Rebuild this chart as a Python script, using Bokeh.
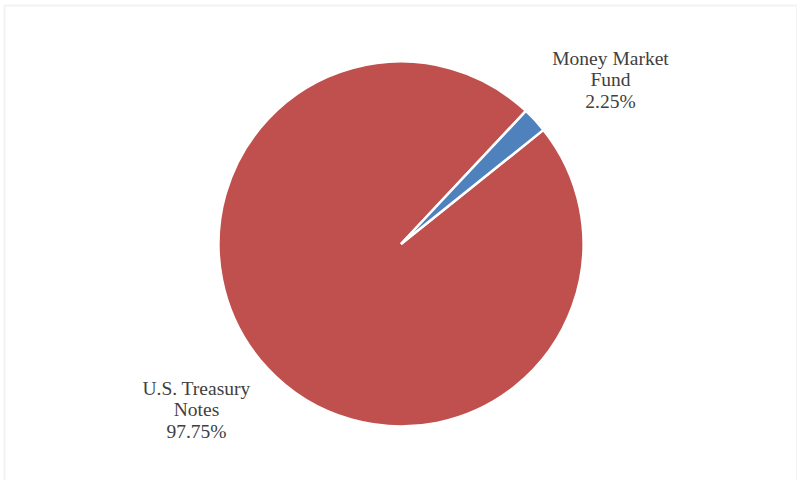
import math
from bokeh.plotting import figure
from bokeh.models import Range1d, ColumnDataSource, BoxAnnotation
from bokeh.core.properties import value
from bokeh.embed import file_html
from bokeh.resources import INLINE

categories = ["U.S. Treasury\nNotes", "Money Market\nFund"]
shares = [97.75, 2.25]
colors = ["#C0504D", "#4F81BD"]

W, H = 797, 480
cx, cy, r = 400.5, H - 243.5, 182.5
start_deg = 46.8  # math angle where first slice starts (counter-clockwise)

starts, ends = [], []
a = start_deg
for s in shares:
    starts.append(math.radians(a))
    a += s / 100 * 360
    ends.append(math.radians(a))

src = ColumnDataSource(dict(start=starts, end=ends, color=colors,
                            x=[cx] * 2, y=[cy] * 2))

p = figure(width=W, height=H, output_backend="svg", toolbar_location=None,
           x_range=Range1d(0, W), y_range=Range1d(0, H), min_border=0,
           match_aspect=False)
p.axis.visible = False
p.grid.visible = False
p.outline_line_color = None
p.background_fill_color = "white"
p.border_fill_color = "white"

p.wedge(x="x", y="y", radius=r, start_angle="start", end_angle="end",
        fill_color="color", line_color="white", line_width=2.5, source=src)

# chart frame (top and left light grey lines)
p.add_layout(BoxAnnotation(left=4, right=796.5, bottom=-10, top=H - 5,
                           fill_alpha=0, line_color="#d4d4d4", line_width=2))

labels = [f"{c}\n{s:.2f}%" for c, s in zip(categories, shares)]
lx = [196, 610]
ly = [H - 409.5, H - 79.5]
p.text(x=lx, y=ly, text=labels, text_align="center", text_baseline="middle",
       text_font=value("Liberation Serif"), text_font_size="19.5px",
       text_color="#404040", text_line_height=1.04)

open("out.html", "w").write(file_html(p, INLINE))
